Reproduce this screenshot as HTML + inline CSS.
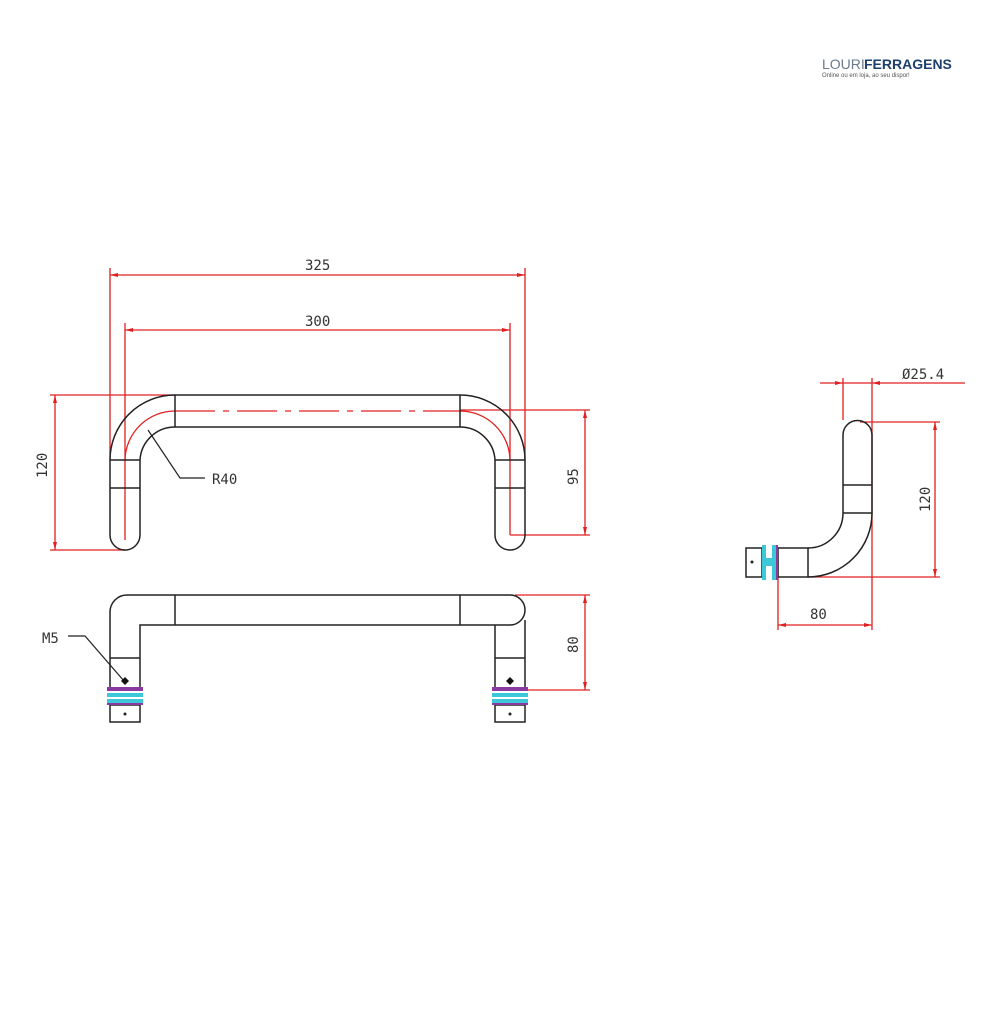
<!DOCTYPE html>
<html><head><meta charset="utf-8"><style>
html,body{margin:0;padding:0;background:#fff;}
svg{display:block;}
text{font-family:"DejaVu Sans Mono","Liberation Mono",monospace;font-size:14px;fill:#333;}
</style></head><body>
<svg width="1001" height="1028" viewBox="0 0 1001 1028" xmlns="http://www.w3.org/2000/svg">
<rect width="1001" height="1028" fill="#fff"/>
<!-- logo -->
<text x="822" y="69" style="font-family:'Liberation Sans',sans-serif;font-size:14px;fill:#6a7a8c">LOURI</text>
<text x="864" y="69" style="font-family:'Liberation Sans',sans-serif;font-size:14px;font-weight:bold;fill:#1d3f6e">FERRAGENS</text>
<text x="822" y="77" style="font-family:'Liberation Sans',sans-serif;font-size:6px;fill:#555">Online ou em loja, ao seu dispor!</text>

<g fill="none" stroke="#e02020" stroke-width="1.3">
<!-- 325 -->
<line x1="110" y1="268" x2="110" y2="460"/><line x1="525" y1="268" x2="525" y2="460"/>
<line x1="110" y1="275" x2="525" y2="275"/>
<!-- 300 -->
<line x1="125" y1="323" x2="125" y2="540"/><line x1="510" y1="323" x2="510" y2="535"/>
<line x1="125" y1="330" x2="510" y2="330"/>
<!-- centre -->
<path d="M125 460 A50 50 0 0 1 175 411"/><path d="M460 411 A50 50 0 0 1 510 460"/>
<line x1="175" y1="411" x2="460" y2="411" stroke-dasharray="40,8,6,8"/>
<!-- 120 -->
<line x1="50" y1="395" x2="175" y2="395"/><line x1="50" y1="550" x2="125" y2="550"/>
<line x1="55" y1="395" x2="55" y2="550"/>
<!-- 95 -->
<line x1="460" y1="410" x2="590" y2="410"/><line x1="510" y1="535" x2="590" y2="535"/>
<line x1="585" y1="410" x2="585" y2="535"/>
<!-- 80 -->
<line x1="515" y1="595" x2="590" y2="595"/><line x1="520" y1="690" x2="590" y2="690"/>
<line x1="585" y1="595" x2="585" y2="690"/>
<!-- side dims -->
<line x1="820" y1="383" x2="965" y2="383"/>
<line x1="843" y1="378" x2="843" y2="420"/><line x1="872" y1="378" x2="872" y2="630"/>
<line x1="860" y1="422" x2="940" y2="422"/><line x1="808" y1="577" x2="940" y2="577"/>
<line x1="935" y1="422" x2="935" y2="577"/>
<line x1="778" y1="560" x2="778" y2="630"/><line x1="778" y1="625" x2="872" y2="625"/>
</g>
<g fill="#e02020">
<path d="M110 275 l8 -2 v4z M525 275 l-8 -2 v4z M125 330 l8 -2 v4z M510 330 l-8 -2 v4z"/>
<path d="M55 395 l-2 8 h4z M55 550 l-2 -8 h4z M585 410 l-2 8 h4z M585 535 l-2 -8 h4z M585 595 l-2 8 h4z M585 690 l-2 -8 h4z"/>
<path d="M843 383 l-8 -2 v4z M872 383 l8 -2 v4z M935 422 l-2 8 h4z M935 577 l-2 -8 h4z M778 625 l8 -2 v4z M872 625 l-8 -2 v4z"/>
</g>

<g fill="none" stroke="#222" stroke-width="1.5">
<!-- top view -->
<path d="M110 460 A65 65 0 0 1 175 395 H460 A65 65 0 0 1 525 460 V535 A15 15 0 0 1 495 535 V460 A35 35 0 0 0 460 427 H175 A35 35 0 0 0 140 460 V535 A15 15 0 0 1 110 535 Z"/>
<line x1="175" y1="395" x2="175" y2="427"/><line x1="460" y1="395" x2="460" y2="427"/>
<line x1="110" y1="460" x2="140" y2="460"/><line x1="110" y1="488" x2="140" y2="488"/>
<line x1="495" y1="460" x2="525" y2="460"/><line x1="495" y1="488" x2="525" y2="488"/>
<!-- R40 leader -->
<polyline points="148,430 180,478 205,478" stroke-width="1.2"/>
<!-- bottom view -->
<path d="M110 690 V612 A17 17 0 0 1 127 595 H510 A15 15 0 0 1 510 625 H495 V690 M525 620 V690 M140 690 V625 H495"/>
<line x1="175" y1="595" x2="175" y2="625"/><line x1="460" y1="595" x2="460" y2="625"/>
<line x1="110" y1="658" x2="140" y2="658"/><line x1="495" y1="658" x2="525" y2="658"/>
<rect x="110" y="705" width="30" height="17"/><rect x="495" y="705" width="30" height="17"/>
<polyline points="68,636 85,636 124,681" stroke-width="1.2"/>
<!-- side view -->
<path d="M843 513 V435 A14.5 14.5 0 0 1 872 435 V513 A64 64 0 0 1 808 577 M843 513 A35 35 0 0 1 808 548"/>
<line x1="843" y1="485" x2="872" y2="485"/><line x1="843" y1="513" x2="872" y2="513"/>
<rect x="778" y="548" width="30" height="29"/>
<rect x="746" y="548" width="16" height="29"/>
</g>
<g>
<rect x="107" y="687" width="36" height="4" fill="#8a3aa0"/><rect x="107" y="693" width="36" height="4" fill="#3cc8d8"/><rect x="107" y="699" width="36" height="4" fill="#3cc8d8"/><rect x="107" y="703" width="36" height="2" fill="#8a3aa0"/>
<rect x="492" y="687" width="36" height="4" fill="#8a3aa0"/><rect x="492" y="693" width="36" height="4" fill="#3cc8d8"/><rect x="492" y="699" width="36" height="4" fill="#3cc8d8"/><rect x="492" y="703" width="36" height="2" fill="#8a3aa0"/>
<rect x="762" y="545" width="4" height="35" fill="#3cc8d8"/><rect x="772" y="545" width="4" height="35" fill="#3cc8d8"/><rect x="766" y="558" width="6" height="8" fill="#3cc8d8"/>
<rect x="776" y="545" width="2" height="35" fill="#8a3aa0"/>
<circle cx="125" cy="714" r="1.5" fill="#222"/><circle cx="510" cy="714" r="1.5" fill="#222"/><circle cx="752" cy="562" r="1.5" fill="#222"/>
<path d="M125 677 l4 4 -4 4 -4 -4z M510 677 l4 4 -4 4 -4 -4z" fill="#111"/>
</g>

<text x="305" y="270">325</text>
<text x="305" y="326">300</text>
<text x="212" y="484">R40</text>
<text x="42" y="643">M5</text>
<text x="902" y="379">Ø25.4</text>
<text x="810" y="619">80</text>
<text transform="translate(47 478) rotate(-90)">120</text>
<text transform="translate(578 485) rotate(-90)">95</text>
<text transform="translate(578 653) rotate(-90)">80</text>
<text transform="translate(930 512) rotate(-90)">120</text>
</svg>
</body></html>
